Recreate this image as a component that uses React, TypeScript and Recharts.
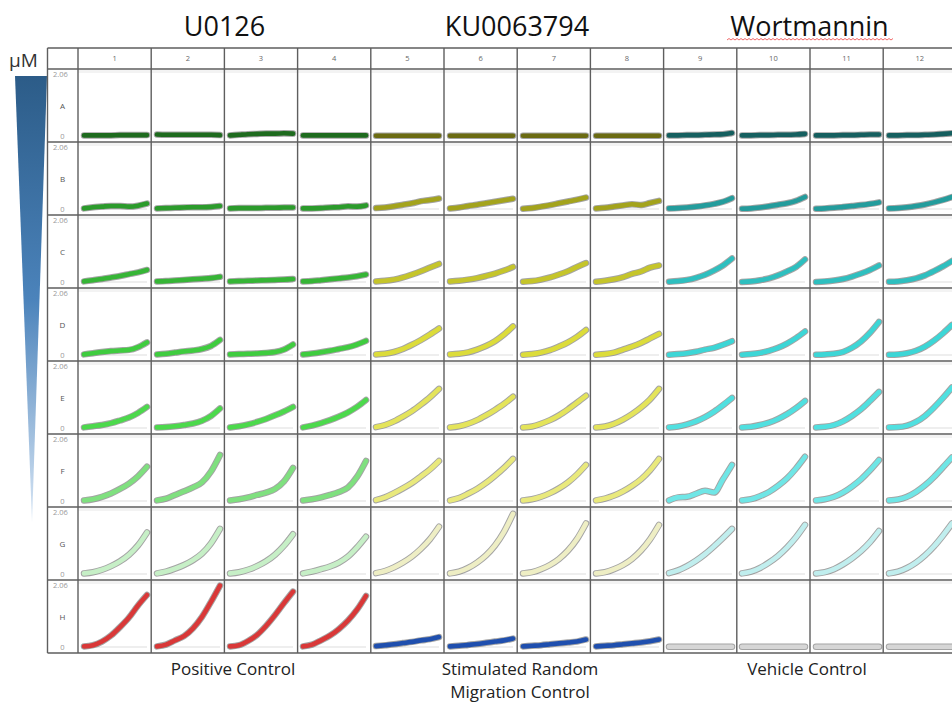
import React from 'react';
import { LineChart, Line, XAxis, YAxis, ReferenceLine } from 'recharts';

// plate layout
const rowLetters = ['A', 'B', 'C', 'D', 'E', 'F', 'G', 'H'];
const wellNumbers = ['1', '2', '3', '4', '5', '6', '7', '8', '9', '10', '11', '12'];
const drugTitles = ['U0126', 'KU0063794', 'Wortmannin'];
const controlLabels = ['Positive Control', 'Stimulated Random|Migration Control', 'Vehicle Control'];
const yMax = 2.06;

// migration traces per well (8 time points each)
const rowA = [
  [0.02, 0.02, 0.02, 0.02, 0.03, 0.03, 0.03, 0.03],
  [0.05, 0.04, 0.04, 0.04, 0.04, 0.04, 0.04, 0.03],
  [0.02, 0.04, 0.06, 0.07, 0.08, 0.08, 0.09, 0.08],
  [0.02, 0.02, 0.02, 0.02, 0.02, 0.02, 0.02, 0.02],
  [0.01, 0.01, 0.01, 0.01, 0.01, 0.01, 0.01, 0.01],
  [0.01, 0.01, 0.01, 0.01, 0.01, 0.01, 0.01, 0.01],
  [0.01, 0.01, 0.01, 0.01, 0.01, 0.01, 0.01, 0.01],
  [0.01, 0.01, 0.01, 0.01, 0.01, 0.01, 0.01, 0.01],
  [0.02, 0.02, 0.03, 0.03, 0.04, 0.05, 0.06, 0.1],
  [0.02, 0.02, 0.03, 0.03, 0.04, 0.04, 0.05, 0.07],
  [0.02, 0.02, 0.02, 0.03, 0.03, 0.04, 0.05, 0.05],
  [0.02, 0.02, 0.03, 0.03, 0.04, 0.05, 0.07, 0.09],
];
const rowB = [
  [0.02, 0.06, 0.08, 0.1, 0.1, 0.08, 0.11, 0.18],
  [0.02, 0.03, 0.04, 0.05, 0.06, 0.06, 0.07, 0.1],
  [0.02, 0.03, 0.03, 0.03, 0.04, 0.04, 0.05, 0.05],
  [0.02, 0.02, 0.03, 0.05, 0.06, 0.09, 0.08, 0.12],
  [0.03, 0.05, 0.09, 0.14, 0.19, 0.26, 0.3, 0.35],
  [0.02, 0.05, 0.1, 0.14, 0.19, 0.24, 0.29, 0.34],
  [0.01, 0.03, 0.08, 0.13, 0.19, 0.25, 0.31, 0.38],
  [0.02, 0.04, 0.08, 0.12, 0.16, 0.13, 0.2, 0.27],
  [0.02, 0.03, 0.05, 0.08, 0.12, 0.17, 0.24, 0.36],
  [0.01, 0.02, 0.05, 0.09, 0.14, 0.19, 0.27, 0.4],
  [0.01, 0.02, 0.04, 0.07, 0.1, 0.13, 0.17, 0.22],
  [0.02, 0.03, 0.06, 0.1, 0.15, 0.22, 0.3, 0.4],
];
const rowC = [
  [0.02, 0.06, 0.1, 0.15, 0.2, 0.26, 0.32, 0.4],
  [0.02, 0.03, 0.05, 0.07, 0.09, 0.11, 0.13, 0.17],
  [0.02, 0.03, 0.04, 0.05, 0.06, 0.07, 0.08, 0.1],
  [0.02, 0.03, 0.06, 0.09, 0.12, 0.15, 0.19, 0.25],
  [0.02, 0.04, 0.08, 0.15, 0.25, 0.36, 0.48, 0.6],
  [0.02, 0.04, 0.08, 0.13, 0.2, 0.28, 0.38, 0.5],
  [0.01, 0.03, 0.08, 0.15, 0.25, 0.36, 0.5, 0.63],
  [0.01, 0.04, 0.09, 0.16, 0.27, 0.35, 0.48, 0.55],
  [0.01, 0.03, 0.07, 0.14, 0.24, 0.38, 0.55, 0.78],
  [0.0, 0.02, 0.06, 0.12, 0.22, 0.35, 0.5, 0.75],
  [0.0, 0.02, 0.05, 0.1, 0.18, 0.28, 0.4, 0.55],
  [0.01, 0.02, 0.06, 0.12, 0.22, 0.36, 0.52, 0.7],
];
const rowD = [
  [0.02, 0.06, 0.1, 0.13, 0.15, 0.17, 0.26, 0.42],
  [0.02, 0.04, 0.08, 0.12, 0.15, 0.2, 0.3, 0.5],
  [0.02, 0.03, 0.04, 0.05, 0.07, 0.1, 0.18, 0.35],
  [0.02, 0.05, 0.09, 0.14, 0.2, 0.26, 0.35, 0.47],
  [0.02, 0.04, 0.1, 0.2, 0.34, 0.5, 0.68, 0.88],
  [0.02, 0.04, 0.09, 0.18, 0.3, 0.46, 0.68, 0.95],
  [0.01, 0.03, 0.08, 0.16, 0.28, 0.42, 0.6, 0.83],
  [0.01, 0.03, 0.08, 0.18, 0.28, 0.4, 0.55, 0.7],
  [0.01, 0.03, 0.06, 0.11, 0.18, 0.24, 0.34, 0.46],
  [0.01, 0.03, 0.07, 0.14, 0.24, 0.38, 0.56, 0.78],
  [0.01, 0.02, 0.04, 0.1, 0.24, 0.45, 0.74, 1.1],
  [0.01, 0.02, 0.06, 0.14, 0.28, 0.48, 0.72, 1.0],
];
const rowE = [
  [0.02, 0.06, 0.1, 0.16, 0.25, 0.35, 0.5, 0.7],
  [0.02, 0.03, 0.06, 0.1, 0.15, 0.24, 0.4, 0.65],
  [0.02, 0.06, 0.12, 0.2, 0.3, 0.42, 0.55, 0.7],
  [0.02, 0.08, 0.16, 0.26, 0.38, 0.52, 0.7, 0.93],
  [0.03, 0.1, 0.22, 0.38, 0.56, 0.78, 1.02, 1.3],
  [0.02, 0.06, 0.14, 0.26, 0.42, 0.6, 0.8, 1.04],
  [0.02, 0.05, 0.14, 0.26, 0.42, 0.62, 0.84, 1.07],
  [0.02, 0.05, 0.14, 0.28, 0.46, 0.68, 0.95, 1.3],
  [0.02, 0.05, 0.12, 0.22, 0.36, 0.54, 0.76, 1.0],
  [0.02, 0.04, 0.1, 0.18, 0.3, 0.46, 0.66, 0.9],
  [0.02, 0.04, 0.1, 0.22, 0.4, 0.62, 0.9, 1.2],
  [0.02, 0.03, 0.08, 0.2, 0.4, 0.68, 1.0, 1.35],
];
const rowF = [
  [0.02, 0.06, 0.14, 0.25, 0.4, 0.58, 0.82, 1.14],
  [0.02, 0.08, 0.2, 0.32, 0.45, 0.62, 0.98, 1.53],
  [0.02, 0.06, 0.12, 0.2, 0.28, 0.4, 0.65, 1.1],
  [0.02, 0.06, 0.12, 0.2, 0.3, 0.45, 0.8, 1.33],
  [0.03, 0.12, 0.26, 0.42, 0.6, 0.82, 1.05, 1.33],
  [0.02, 0.1, 0.24, 0.4, 0.6, 0.84, 1.1, 1.4],
  [0.02, 0.06, 0.14, 0.26, 0.42, 0.62, 0.88, 1.2],
  [0.02, 0.08, 0.18, 0.32, 0.5, 0.72, 1.02, 1.4],
  [0.02, 0.12, 0.14, 0.24, 0.34, 0.28, 0.72, 1.2],
  [0.02, 0.06, 0.16, 0.3, 0.5, 0.75, 1.08, 1.47],
  [0.02, 0.06, 0.14, 0.28, 0.48, 0.72, 1.02, 1.36],
  [0.02, 0.05, 0.14, 0.3, 0.52, 0.8, 1.12, 1.45],
];
const rowG = [
  [0.02, 0.06, 0.14, 0.26, 0.42, 0.64, 0.95, 1.38],
  [0.02, 0.08, 0.18, 0.3, 0.46, 0.68, 1.02, 1.5],
  [0.02, 0.06, 0.14, 0.26, 0.42, 0.64, 0.94, 1.32],
  [0.02, 0.08, 0.16, 0.25, 0.38, 0.58, 0.88, 1.24],
  [0.03, 0.1, 0.22, 0.38, 0.58, 0.84, 1.16, 1.57],
  [0.02, 0.08, 0.2, 0.38, 0.62, 0.95, 1.4, 2.0],
  [0.02, 0.06, 0.16, 0.3, 0.5, 0.78, 1.16, 1.68],
  [0.02, 0.06, 0.16, 0.3, 0.5, 0.78, 1.15, 1.63],
  [0.03, 0.12, 0.26, 0.44, 0.66, 0.92, 1.2, 1.5],
  [0.02, 0.08, 0.2, 0.38, 0.6, 0.88, 1.22, 1.63],
  [0.02, 0.06, 0.16, 0.32, 0.52, 0.76, 1.06, 1.43],
  [0.02, 0.08, 0.2, 0.38, 0.62, 0.92, 1.28, 1.68],
];
const rowH = [
  [0.02, 0.06, 0.18, 0.38, 0.66, 0.98, 1.38, 1.73],
  [0.02, 0.08, 0.22, 0.36, 0.62, 1.0, 1.5, 2.04],
  [0.02, 0.06, 0.2, 0.4, 0.7, 1.06, 1.46, 1.84],
  [0.02, 0.08, 0.22, 0.38, 0.6, 0.88, 1.24, 1.7],
  [0.03, 0.06, 0.09, 0.13, 0.17, 0.22, 0.26, 0.33],
  [0.02, 0.04, 0.07, 0.1, 0.14, 0.18, 0.22, 0.28],
  [0.02, 0.04, 0.06, 0.09, 0.12, 0.15, 0.18, 0.25],
  [0.02, 0.04, 0.06, 0.09, 0.12, 0.15, 0.19, 0.25],
  [0.01, 0.01, 0.01, 0.01, 0.01, 0.01, 0.01, 0.01],
  [0.01, 0.01, 0.01, 0.01, 0.01, 0.01, 0.01, 0.01],
  [0.01, 0.01, 0.01, 0.01, 0.01, 0.01, 0.01, 0.01],
  [0.01, 0.01, 0.01, 0.01, 0.01, 0.01, 0.01, 0.01],
];
const plate = [rowA, rowB, rowC, rowD, rowE, rowF, rowG, rowH];

// colour per row for each drug block (cols 1-4, 5-8, 9-12)
const u0126Colors = ['#1e6b1e', '#2b9b2b', '#36b536', '#3fcc3f', '#4cd94c', '#7fe07f', '#c6efc6', '#d93838'];
const kuColors = ['#6b6b12', '#a3a31c', '#c5c52a', '#dcdc3a', '#e4e45a', '#e9e97c', '#eeeec4', '#1f4fae'];
const wortColors = ['#155f5f', '#239c9c', '#2ebfbf', '#3cd6d6', '#50e0e0', '#6fe6e6', '#c0eeee', '#d6d6d6'];
const blockColors = [u0126Colors, kuColors, wortColors];

const gridLeft = 47.5;
const headerTop = 48;
const colLeft = 78;
const colW = 73.2;
const firstRowTop = 69;
const cellH = 73;
const gridBottom = firstRowTop + 8 * cellH;
const font = '"Open Sans", sans-serif';

const Well = ({ values, color }: { values: number[]; color: string }) => {
  const data = values.map((v, i) => ({ t: i, v }));
  return (
    <LineChart width={73} height={73} data={data} margin={{ top: 5, right: 5, bottom: 6, left: 5 }}>
      <XAxis dataKey="t" hide />
      <YAxis domain={[0, yMax]} hide />
      <ReferenceLine y={0} stroke="#eeeeee" strokeWidth={2} />
      <Line
        type="monotone"
        dataKey="v"
        stroke="#4a4a4a"
        strokeOpacity={0.5}
        strokeWidth={6.5}
        strokeLinecap="round"
        dot={false}
        isAnimationActive={false}
      />
      <Line
        type="monotone"
        dataKey="v"
        stroke={color}
        strokeWidth={4.6}
        strokeLinecap="round"
        dot={false}
        isAnimationActive={false}
      />
    </LineChart>
  );
};

export default function App() {
  // red spell-check squiggle under "Wortmannin"
  const squiggle: string[] = [];
  for (let x = 727, k = 0; x <= 893; x += 2, k++) squiggle.push(`${x},${k % 2 === 0 ? 40 : 38.5}`);

  return (
    <div style={{ position: 'fixed', left: 0, top: 0, width: 952, height: 704, overflow: 'hidden', background: '#fff' }}>
      <svg width={952} height={704} style={{ position: 'absolute', left: 0, top: 0 }}>
        <defs>
          <linearGradient id="conc" x1="0" y1="0" x2="0" y2="1">
            <stop offset="0%" stopColor="#2c5c88" />
            <stop offset="50%" stopColor="#4b83bb" />
            <stop offset="100%" stopColor="#d8e6f5" />
          </linearGradient>
        </defs>
        {drugTitles.map((t, i) => (
          <text key={t} x={224.5 + i * 292.5} y={36} textAnchor="middle" fontFamily={font} fontSize={27} fill="#111">
            {t}
          </text>
        ))}
        <polyline points={squiggle.join(' ')} fill="none" stroke="#e44" strokeWidth={0.8} />
        <text x={23.5} y={67} textAnchor="middle" fontFamily={font} fontSize={19} fill="#333">µM</text>
        <polygon points="15,76 47,76 32,522" fill="url(#conc)" />
        {/* faint bands at top of each row */}
        {rowLetters.map((r, i) => (
          <rect key={r} x={colLeft} y={firstRowTop + i * cellH + 1} width={952} height={3} fill="#f3f3f3" />
        ))}
        {/* grid */}
        <line x1={gridLeft} x2={952} y1={headerTop} y2={headerTop} stroke="#5e5e5e" strokeWidth={1.4} />
        {Array.from({ length: 9 }, (_, i) => (
          <line key={'h' + i} x1={gridLeft} x2={952} y1={firstRowTop + i * cellH} y2={firstRowTop + i * cellH} stroke="#5e5e5e" strokeWidth={1.4} />
        ))}
        <line x1={gridLeft} x2={gridLeft} y1={headerTop} y2={gridBottom} stroke="#5e5e5e" strokeWidth={1.4} />
        {Array.from({ length: 13 }, (_, i) => (
          <line key={'v' + i} x1={colLeft + i * colW} x2={colLeft + i * colW} y1={headerTop} y2={gridBottom} stroke="#5e5e5e" strokeWidth={1.4} />
        ))}
        {wellNumbers.map((n, i) => (
          <text key={n} x={colLeft + i * colW + colW / 2} y={61} textAnchor="middle" fontFamily={font} fontSize={7.5} fill="#666">
            {n}
          </text>
        ))}
        {rowLetters.map((r, i) => (
          <g key={r} fontFamily={font}>
            <text x={53} y={firstRowTop + i * cellH + 8} fontSize={7.5} fill="#999">2.06</text>
            <text x={62.5} y={firstRowTop + i * cellH + 40} textAnchor="middle" fontSize={8} fill="#555">{r}</text>
            <text x={62.5} y={firstRowTop + i * cellH + 70} textAnchor="middle" fontSize={7.5} fill="#999">0</text>
          </g>
        ))}
        {controlLabels.map((label, i) =>
          label.split('|').map((line, j) => (
            <text key={label + j} x={233 + i * 287} y={675 + j * 23} textAnchor="middle" fontFamily={font} fontSize={17} fill="#222">
              {line}
            </text>
          ))
        )}
      </svg>
      {plate.map((row, r) =>
        row.map((values, c) => (
          <div
            key={`${r}-${c}`}
            style={{ position: 'absolute', left: colLeft + c * colW + 0.5, top: firstRowTop + r * cellH, width: 73, height: 73 }}
          >
            <Well values={values} color={blockColors[Math.floor(c / 4)][r]} />
          </div>
        ))
      )}
    </div>
  );
}
